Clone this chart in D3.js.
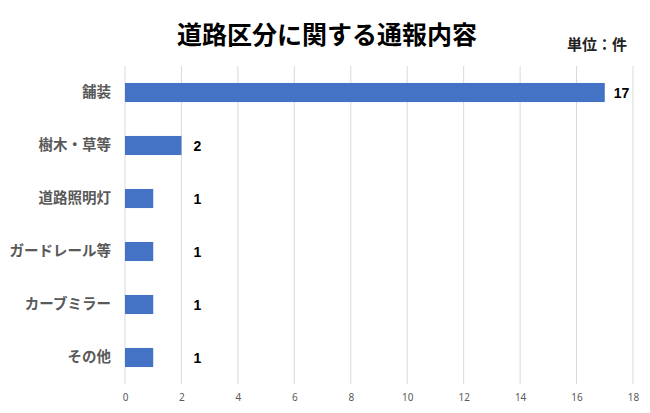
<!DOCTYPE html>
<html>
<head>
<meta charset="utf-8">
<script src="https://cdn.jsdelivr.net/npm/d3@7"></script>
<style>
  body { margin: 0; background: #fff; }
  text { font-family: "Noto Sans CJK JP", "Noto Sans", sans-serif; }
</style>
</head>
<body>
<div class="chart"></div>
<script>
// data
var categories = ["舗装", "樹木・草等", "道路照明灯", "ガードレール等", "カーブミラー", "その他"];
var counts = [17, 2, 1, 1, 1, 1];
var xTicks = [0, 2, 4, 6, 8, 10, 12, 14, 16, 18];
var titleText = "道路区分に関する通報内容";
var unitText = "単位：件";

var width = 650, height = 413;
var plot = { left: 125, right: 633, top: 66, bottom: 384 };

var rows = categories.map((c, i) => ({ name: c, value: counts[i] }));

var svg = d3.select(".chart")
  .append("svg")
  .attr("width", width)
  .attr("height", height);

svg.append("rect")
  .attr("width", "100%")
  .attr("height", "100%")
  .attr("fill", "white");

var x = d3.scaleLinear()
  .domain([0, 18])
  .range([plot.left, plot.right]);

var y = d3.scaleBand()
  .domain(categories)
  .range([plot.top, plot.bottom])
  .paddingInner(0.64)
  .paddingOuter(0.32);

// vertical gridlines
svg.append("g")
  .selectAll("line")
  .data(xTicks)
  .enter()
  .append("line")
  .attr("x1", d => x(d))
  .attr("x2", d => x(d))
  .attr("y1", plot.top)
  .attr("y2", plot.bottom)
  .attr("stroke", "#d9d9d9")
  .attr("stroke-width", 1);

// x axis labels (no domain line, no ticks)
var xAxis = svg.append("g")
  .attr("transform", `translate(0,${plot.bottom})`)
  .call(d3.axisBottom(x).tickValues(xTicks).tickSize(0).tickPadding(10));
xAxis.select(".domain").remove();
xAxis.selectAll("text")
  .attr("font-size", 10)
  .attr("fill", "#595959")
  .style("font-family", "'Noto Sans', sans-serif");

// category labels
var yAxis = svg.append("g")
  .attr("transform", `translate(${plot.left},0)`)
  .call(d3.axisLeft(y).tickSize(0).tickPadding(14));
yAxis.select(".domain").remove();
yAxis.selectAll("text")
  .attr("font-size", 14.5)
  .attr("font-weight", "bold")
  .attr("fill", "#595959");

// bars
svg.append("g")
  .selectAll("rect")
  .data(rows)
  .enter()
  .append("rect")
  .attr("x", x(0))
  .attr("y", d => y(d.name))
  .attr("width", d => x(d.value) - x(0))
  .attr("height", y.bandwidth())
  .attr("fill", "#4472c4");

// value labels (small ones sit out at the same spot like the original)
svg.append("g")
  .selectAll("text")
  .data(rows)
  .enter()
  .append("text")
  .attr("x", d => Math.max(x(d.value), x(2)) + (d.value > 2 ? 9 : 12))
  .attr("y", d => y(d.name) + y.bandwidth() / 2)
  .attr("dy", "0.36em")
  .attr("font-size", 14)
  .attr("font-weight", "bold")
  .attr("fill", "#000")
  .style("font-family", "'Liberation Sans', sans-serif")
  .text(d => d.value);

// title and unit
svg.append("text")
  .attr("x", 327)
  .attr("y", 35)
  .attr("dy", "0.35em")
  .attr("text-anchor", "middle")
  .attr("font-size", 25)
  .attr("font-weight", "bold")
  .attr("fill", "#000")
  .text(titleText);

svg.append("text")
  .attr("x", 627)
  .attr("y", 45)
  .attr("dy", "0.35em")
  .attr("text-anchor", "end")
  .attr("font-size", 15)
  .attr("font-weight", "bold")
  .attr("fill", "#222")
  .text(unitText);
</script>
</body>
</html>
